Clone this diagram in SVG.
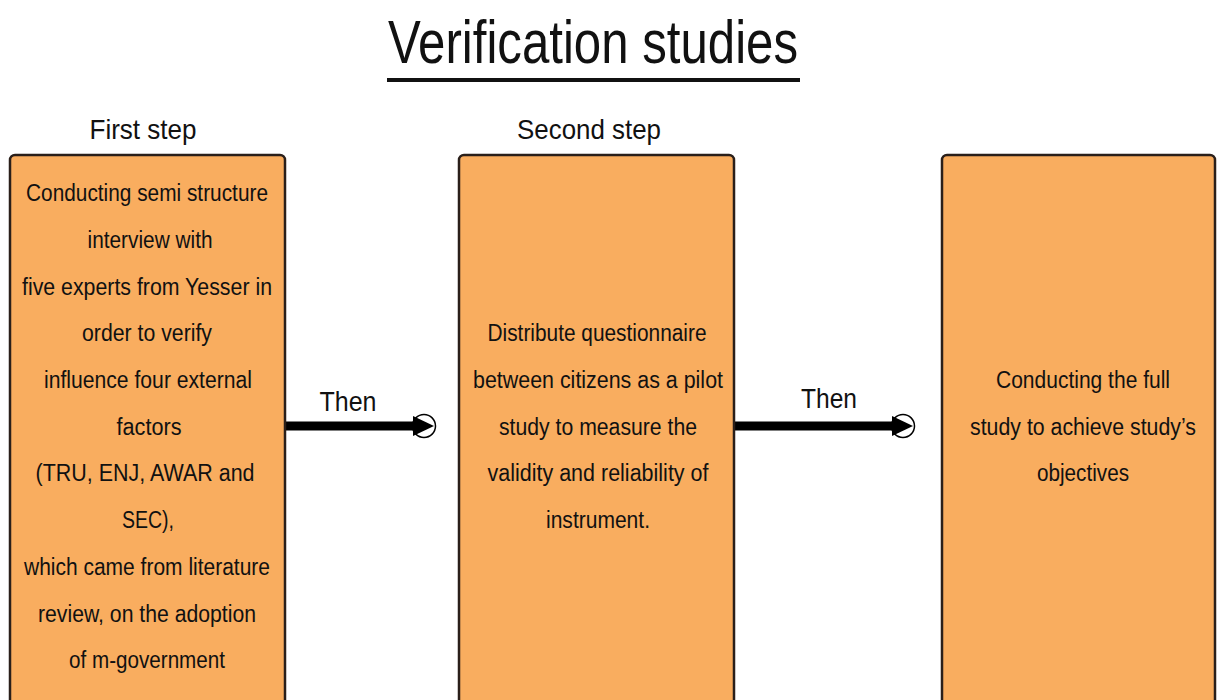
<svg xmlns="http://www.w3.org/2000/svg" width="1217" height="700" viewBox="0 0 1217 700">
  <style>
    .box { fill: #F9AD5F; stroke: #2a1f1a; stroke-width: 2.5; }
    .txt { font-family: "Liberation Sans", Arial, sans-serif; font-size: 23px; fill: #111; text-anchor: middle; }
    .hdr { font-family: "Liberation Sans", Arial, sans-serif; font-size: 28px; fill: #111; text-anchor: middle; }
    .title { font-family: "Liberation Sans", Arial, sans-serif; font-size: 62px; fill: #111; text-anchor: middle; }
    .shaft { stroke: #000; stroke-width: 9; }
    .ring { fill: none; stroke: #000; stroke-width: 1.5; }
  </style>
  <defs>
    <g id="head">
      <circle class="ring" cx="0" cy="0" r="11.5"/>
      <polygon points="-11,-10 10,0 -11,10" fill="#000"/>
    </g>
  </defs>
  <rect width="1217" height="700" fill="#fff"/>

  <g id="title">
    <text class="title" x="593" y="63" textLength="410" lengthAdjust="spacingAndGlyphs">Verification studies</text>
    <rect x="387" y="78" width="413" height="4" fill="#111"/>
  </g>

  <g id="labels">
    <text class="hdr" x="143" y="139" textLength="107" lengthAdjust="spacingAndGlyphs">First step</text>
    <text class="hdr" x="589" y="139" textLength="144" lengthAdjust="spacingAndGlyphs">Second step</text>
  </g>

  <g id="connectors">
    <g id="then1">
      <line class="shaft" x1="285" y1="426" x2="416" y2="426"/>
      <use href="#head" x="424" y="426"/>
      <text class="hdr" x="348" y="411" textLength="57" lengthAdjust="spacingAndGlyphs">Then</text>
    </g>
    <g id="then2">
      <line class="shaft" x1="734" y1="426" x2="896" y2="426"/>
      <use href="#head" x="903" y="426"/>
      <text class="hdr" x="829" y="408" textLength="56" lengthAdjust="spacingAndGlyphs">Then</text>
    </g>
  </g>

  <g id="step1">
    <rect class="box" x="10" y="155" width="275" height="560" rx="5"/>
    <text class="txt" x="147" y="201" textLength="242" lengthAdjust="spacingAndGlyphs">Conducting semi structure</text>
    <text class="txt" x="150" y="248" textLength="125" lengthAdjust="spacingAndGlyphs">interview with</text>
    <text class="txt" x="147" y="295" textLength="250" lengthAdjust="spacingAndGlyphs">five experts from Yesser in</text>
    <text class="txt" x="147" y="341" textLength="130" lengthAdjust="spacingAndGlyphs">order to verify</text>
    <text class="txt" x="148" y="388" textLength="208" lengthAdjust="spacingAndGlyphs">influence four external</text>
    <text class="txt" x="149" y="435" textLength="65" lengthAdjust="spacingAndGlyphs">factors</text>
    <text class="txt" x="145" y="481" textLength="219" lengthAdjust="spacingAndGlyphs">(TRU, ENJ, AWAR and</text>
    <text class="txt" x="148" y="528" textLength="52" lengthAdjust="spacingAndGlyphs">SEC),</text>
    <text class="txt" x="147" y="575" textLength="246" lengthAdjust="spacingAndGlyphs">which came from literature</text>
    <text class="txt" x="147" y="622" textLength="218" lengthAdjust="spacingAndGlyphs">review, on the adoption</text>
    <text class="txt" x="147" y="668" textLength="156" lengthAdjust="spacingAndGlyphs">of m-government</text>
  </g>

  <g id="step2">
    <rect class="box" x="459" y="155" width="275" height="560" rx="5"/>
    <text class="txt" x="597" y="341" textLength="219" lengthAdjust="spacingAndGlyphs">Distribute questionnaire</text>
    <text class="txt" x="598" y="388" textLength="250" lengthAdjust="spacingAndGlyphs">between citizens as a pilot</text>
    <text class="txt" x="598" y="435" textLength="198" lengthAdjust="spacingAndGlyphs">study to measure the</text>
    <text class="txt" x="598" y="481" textLength="221" lengthAdjust="spacingAndGlyphs">validity and reliability of</text>
    <text class="txt" x="598" y="528" textLength="104" lengthAdjust="spacingAndGlyphs">instrument.</text>
  </g>

  <g id="step3">
    <rect class="box" x="942" y="155" width="273" height="560" rx="5"/>
    <text class="txt" x="1083" y="388" textLength="174" lengthAdjust="spacingAndGlyphs">Conducting the full</text>
    <text class="txt" x="1083" y="435" textLength="226" lengthAdjust="spacingAndGlyphs">study to achieve study’s</text>
    <text class="txt" x="1083" y="481" textLength="92" lengthAdjust="spacingAndGlyphs">objectives</text>
  </g>
</svg>
